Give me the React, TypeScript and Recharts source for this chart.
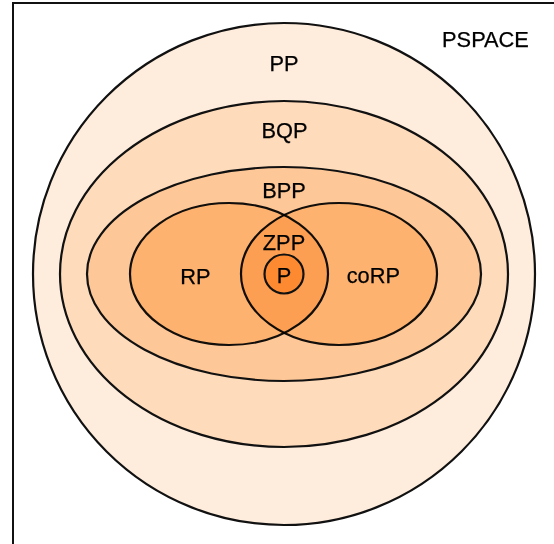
import React from 'react';
import { ScatterChart, XAxis, YAxis, ReferenceArea, Scatter } from 'recharts';

// complexity classes drawn as ellipses, centre of the diagram is (0, 0), y points up
const classNames = ['PP', 'BQP', 'BPP', 'RP', 'coRP', 'P'];
const centerX = [0, 0, 0, -55, 55, 0];
const centerY = [0, 0, 0, 0, 0, 0];
const radiusX = [251, 224, 197, 99, 98, 19.5];
const radiusY = [251, 173, 107, 71, 71, 19.5];

// text labels (baseline position)
const labelText = ['PSPACE', 'PP', 'BQP', 'BPP', 'ZPP', 'P', 'RP', 'coRP'];
const labelX = [201.5, 0, 0.5, 0, 0, 0, -88.7, 89.3];
const labelY = [227.3, 202.7, 135.7, 76.3, 24, -9.3, -10, -9.3];

const FILLS: Record<string, string> = {
  PP: '#feecdc',
  BQP: '#fddbbb',
  BPP: '#fdc797',
  RP: '#ffe4bb',
  coRP: '#ffe4bb',
  P: '#fd8a30',
};
const BLEND: Record<string, string> = { RP: 'multiply', coRP: 'multiply' };

const labels = labelText.map((text, i) => ({ text, x: labelX[i], y: labelY[i] }));

const EllipseShape = (name: string) => (props: any) => {
  const { x, y, width, height } = props;
  return (
    <ellipse
      cx={x + width / 2}
      cy={y + height / 2}
      rx={Math.abs(width) / 2}
      ry={Math.abs(height) / 2}
      fill={FILLS[name]}
      stroke="#111"
      strokeWidth={2.2}
      style={BLEND[name] ? { mixBlendMode: BLEND[name] as any } : undefined}
    />
  );
};

const LabelShape = (props: any) => {
  const { cx, cy, payload } = props;
  return (
    <text
      x={cx}
      y={cy}
      textAnchor="middle"
      fontFamily="'Liberation Sans', Arial, sans-serif"
      fontSize={21.8}
      fill="#000"
      stroke="#000"
      strokeWidth={0.25}
    >
      {payload.text}
    </text>
  );
};

export default function App() {
  return (
    <div style={{ position: 'absolute', left: 0, top: 0, width: 554, height: 544, overflow: 'hidden', background: '#fff' }}>
      <div
        style={{
          position: 'absolute',
          left: 12,
          top: 2,
          width: 600,
          height: 600,
          borderLeft: '2px solid #111',
          borderTop: '2px solid #111',
        }}
      />
      <div style={{ position: 'absolute', left: 0, top: 0 }}>
        <ScatterChart width={554} height={544} margin={{ top: 0, right: 0, bottom: 0, left: 0 }}>
          <XAxis type="number" dataKey="x" domain={[-284, 270]} allowDataOverflow hide />
          <YAxis type="number" dataKey="y" domain={[-270, 274]} allowDataOverflow hide />
          {classNames.map((name, i) => (
            <ReferenceArea
              key={name}
              x1={centerX[i] - radiusX[i]}
              x2={centerX[i] + radiusX[i]}
              y1={centerY[i] - radiusY[i]}
              y2={centerY[i] + radiusY[i]}
              ifOverflow="visible"
              shape={EllipseShape(name)}
            />
          ))}
          <Scatter data={labels} shape={LabelShape} isAnimationActive={false} />
        </ScatterChart>
      </div>
    </div>
  );
}
